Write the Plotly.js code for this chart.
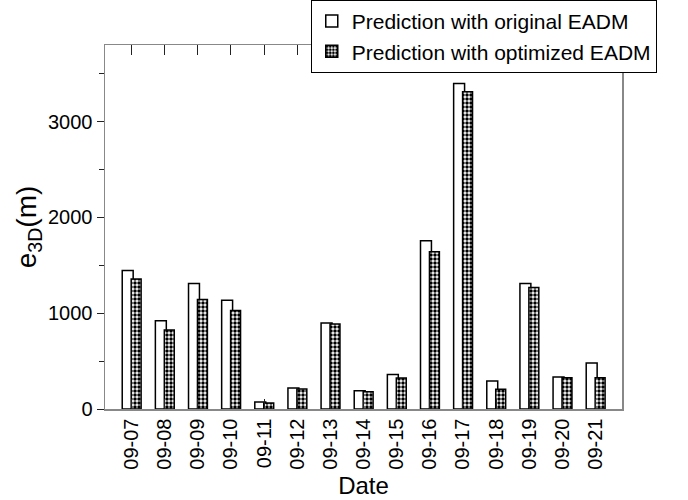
<!DOCTYPE html>
<html>
<head>
<meta charset="utf-8">
<script src="https://cdn.plot.ly/plotly-3.0.1.min.js"></script>
<style>html,body{margin:0;padding:0;background:#fff;}#chart{width:688px;height:500px;}</style>
</head>
<body>
<div id="chart"></div>
<script>
const dates = ["09-07","09-08","09-09","09-10","09-11","09-12","09-13","09-14","09-15","09-16","09-17","09-18","09-19","09-20","09-21"];
const originalEADM = [1446, 920, 1310, 1136, 73, 219, 899, 191, 359, 1756, 3397, 293, 1310, 334, 481];
const optimizedEADM = [1356, 826, 1143, 1028, 63, 209, 888, 181, 324, 1641, 3313, 206, 1268, 327, 327];
const seriesNames = ["Prediction with original EADM", "Prediction with optimized EADM"];

const idx = dates.map((d, i) => i);
const FONT = "Liberation Sans, Arial, sans-serif";

const traces = [
  {
    type: "bar", name: seriesNames[0], x: idx, y: originalEADM,
    offset: -0.28, width: 0.33,
    marker: {color: "#ffffff", line: {color: "#000000", width: 1.5}},
    hoverinfo: "skip"
  },
  {
    type: "bar", name: seriesNames[1], x: idx, y: optimizedEADM,
    offset: -0.01, width: 0.30,
    marker: {color: "#ffffff", line: {color: "#000000", width: 1.5},
      pattern: {shape: ".", fgcolor: "#000000", bgcolor: "#ffffff", size: 4, solidity: 0.6, fillmode: "replace"}},
    hoverinfo: "skip"
  }
];

const layout = {
  width: 688, height: 500,
  margin: {l: 105, r: 66, t: 45, b: 91, autoexpand: false},
  paper_bgcolor: "#ffffff", plot_bgcolor: "#ffffff",
  font: {family: FONT, color: "#000000", size: 20},
  barmode: "overlay",
  showlegend: true,
  legend: {
    x: 0.398, xanchor: "left", y: 1.124, yanchor: "top",
    bgcolor: "#ffffff", bordercolor: "#000000", borderwidth: 1,
    font: {family: FONT, size: 21, color: "#000000"},
    tracegroupgap: 0, itemwidth: 30
  },
  xaxis: {
    automargin: false,
    range: [-0.8, 14.8],
    tickmode: "array", tickvals: idx, ticktext: dates,
    tickangle: -90,
    ticks: "inside", ticklen: 10, tickwidth: 1, tickcolor: "#222222",
    showline: true, linecolor: "#888888", linewidth: 1.5, mirror: "ticks",
    showgrid: false, zeroline: false,
    tickfont: {family: FONT, size: 20, color: "#000000"},
    title: {text: "Date", font: {family: FONT, size: 24, color: "#000000"}}
  },
  yaxis: {
    automargin: false,
    range: [0, 3800],
    tickmode: "linear", tick0: 0, dtick: 1000,
    ticks: "outside", ticklen: 7, tickwidth: 1, tickcolor: "#222222",
    minor: {dtick: 500, ticks: "outside", ticklen: 5, tickcolor: "#222222", showgrid: false},
    showline: true, linecolor: "#888888", linewidth: 1.5, mirror: true,
    showgrid: false, zeroline: false,
    tickfont: {family: FONT, size: 20, color: "#000000"},
    title: {text: "e<sub>3D</sub>(m)", font: {family: FONT, size: 28, color: "#000000"}}
  },
  yaxis2: {
    automargin: false,
    overlaying: "y", side: "right", range: [0, 3800],
    tickmode: "linear", tick0: 0, dtick: 1000,
    ticks: "inside", ticklen: 6, tickwidth: 1, tickcolor: "#222222",
    minor: {dtick: 500, ticks: "inside", ticklen: 6, tickcolor: "#222222", showgrid: false},
    showticklabels: false, showgrid: false, zeroline: false, showline: false
  }
};

Plotly.newPlot("chart", traces, layout, {displayModeBar: false, staticPlot: true});
</script>
</body>
</html>
